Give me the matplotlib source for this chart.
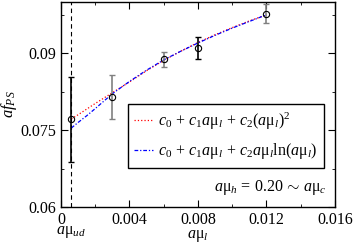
import numpy as np
import matplotlib.pyplot as plt
from matplotlib.ticker import MultipleLocator

plt.rcParams['font.family'] = ['Liberation Serif', 'DejaVu Serif']
plt.rcParams['mathtext.fontset'] = 'custom'
plt.rcParams['mathtext.rm'] = 'Liberation Serif'
plt.rcParams['mathtext.it'] = 'Liberation Serif:italic'
plt.rcParams['mathtext.bf'] = 'Liberation Serif:bold'

# puntos de datos
mu_l = [0.0006, 0.003, 0.006, 0.008, 0.012]
f_ps = [0.0771, 0.0814, 0.0888, 0.0910, 0.0977]
f_err = [0.0083, 0.0043, 0.0014, 0.0022, 0.0019]
err_col = ['black', 'gray', 'gray', 'black', 'gray']

# curvas de ajuste
fit_x = [0.0006, 0.001, 0.0015, 0.002, 0.003, 0.004, 0.005, 0.006,
         0.007, 0.008, 0.009, 0.010, 0.011, 0.012]
fit_quad = [0.0772, 0.0780, 0.0791, 0.0802, 0.0823, 0.0844, 0.0866, 0.0886,
            0.0904, 0.0921, 0.0936, 0.0950, 0.0963, 0.0975]
fit_log = [0.0754, 0.0765, 0.0778, 0.0792, 0.0821, 0.0845, 0.0867, 0.0887,
           0.0904, 0.0920, 0.0935, 0.0949, 0.0962, 0.0975]

mu_ud = 0.0006

fig = plt.figure(figsize=(3.54, 2.45), dpi=100)
ax = fig.add_axes([0.1723, 0.155, 0.774, 0.837])

ax.axvline(mu_ud, color='black', ls='--', lw=0.8, dashes=(4, 3))

mu = r'\mathrm{\mu}'
ax.plot(fit_x, fit_quad, color='red', ls=':', lw=0.9,
        label=r'$c_{\mathit{0}}\,+\,c_{\mathit{1}}a%s_l\,+\,c_{\mathit{2}}(a%s_l)^{\mathit{2}}$' % (mu, mu))
ax.plot(fit_x, fit_log, color='blue', ls='-.', lw=0.9, dashes=(3, 1.5, 1, 1.5),
        label=r'$c_{\mathit{0}}\,+\,c_{\mathit{1}}a%s_l\,+\,c_{\mathit{2}}a%s_l\mathrm{ln}(a%s_l)$' % (mu, mu, mu))

for x, y, e, c in zip(mu_l, f_ps, f_err, err_col):
    ax.errorbar(x, y, yerr=e, fmt='none', ecolor=c, elinewidth=1.2,
                capsize=2, capthick=1.0)
ax.plot(mu_l, f_ps, 'o', mfc='none', mec='black', ms=4.5, mew=0.8)

ax.set_xlim(0, 0.016)
ax.set_ylim(0.06, 0.1)
ax.xaxis.set_minor_locator(MultipleLocator(0.002))
ax.yaxis.set_minor_locator(MultipleLocator(0.0075))
ax.set_xticks([0, 0.004, 0.008, 0.012, 0.016])
ax.set_xticklabels(['0', '0.004', '0.008', '0.012', '0.016'])
ax.set_yticks([0.06, 0.075, 0.09])
ax.set_yticklabels(['0.06', '0.075', '0.09'])
ax.tick_params(which='both', direction='in', top=True, right=True, labelsize=11.5)
ax.tick_params(which='major', length=5)
ax.tick_params(which='minor', length=2.5)
for s in ax.spines.values():
    s.set_linewidth(1.0)

ax.set_xlabel(r'$a\mathrm{\mu}_l$', fontsize=11.5, labelpad=0)
ax.set_ylabel(r'$af_{PS}$', fontsize=12, labelpad=1)
ax.text(mu_ud, -0.085, r'$a\mathrm{\mu}_{ud}$', transform=ax.get_xaxis_transform(),
        ha='center', va='top', fontsize=11.5)
ax.text(0.97, 0.05, r'$a\mathrm{\mu}_h\,=\,\mathit{0.20}\,\sim\,a\mathrm{\mu}_c$', transform=ax.transAxes,
        ha='right', va='bottom', fontsize=11.5)

leg = ax.legend(loc='upper left', bbox_to_anchor=(0.243, 0.502), borderaxespad=0,
                fontsize=11.5, handlelength=1.2, handletextpad=0.3, borderpad=0.4,
                labelspacing=0.6, fancybox=False, framealpha=1)
leg.get_frame().set_edgecolor('black')
leg.get_frame().set_linewidth(1.0)

fig.savefig('out.png', dpi=100)
